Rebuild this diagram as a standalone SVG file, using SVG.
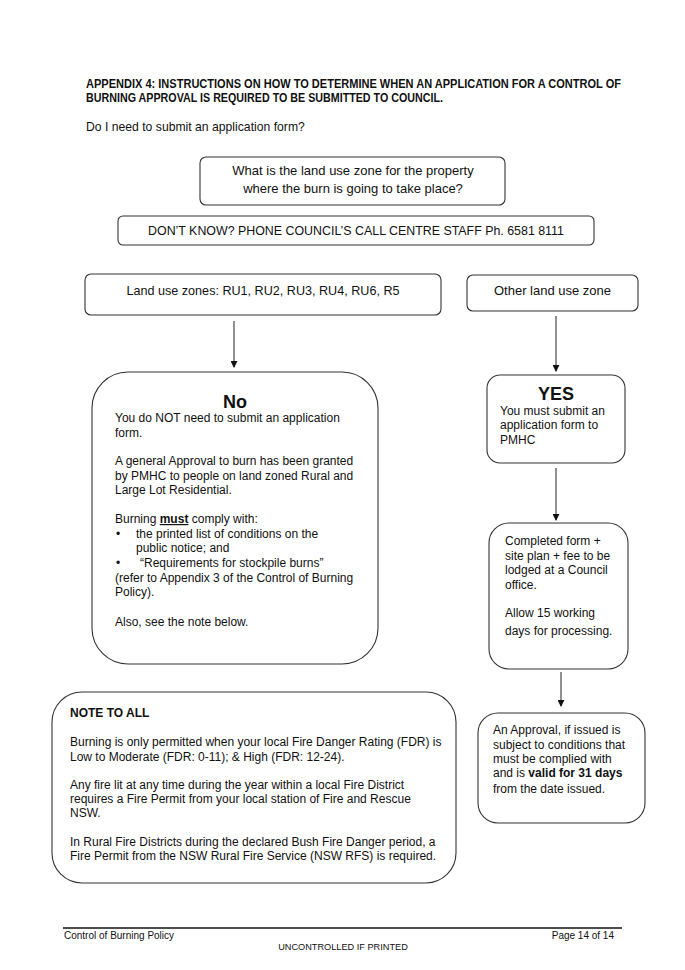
<svg xmlns="http://www.w3.org/2000/svg" width="685" height="970" viewBox="0 0 685 970">
<defs>
<style>
text{font-family:"Liberation Sans",Arial,sans-serif;fill:#111;font-size:12px}
.box{fill:#fff;stroke:#333;stroke-width:1.1}
.t13{font-size:13px}
.b{font-weight:bold}
.h{font-size:18px;font-weight:bold}
.ft{font-size:10px}
.c{text-anchor:middle}
.conn line{stroke:#222;stroke-width:1}
</style>
<marker id="ah" viewBox="0 0 8 8" refX="7" refY="4" markerWidth="7" markerHeight="7" markerUnits="userSpaceOnUse" orient="auto">
<path d="M0,0 L8,4 L0,8 Z" fill="#111"/>
</marker>
</defs>
<rect width="685" height="970" fill="#fff"/>

<g id="header">
<text x="86" y="88" class="b" textLength="535" lengthAdjust="spacingAndGlyphs">APPENDIX 4:  INSTRUCTIONS ON HOW TO DETERMINE WHEN AN APPLICATION FOR A CONTROL OF</text>
<text x="86" y="102" class="b" textLength="357" lengthAdjust="spacingAndGlyphs">BURNING APPROVAL IS REQUIRED TO BE SUBMITTED TO COUNCIL.</text>
<text x="86" y="131" style="font-size:12.2px">Do I need to submit an application form?</text>
</g>

<g id="question">
<rect class="box" x="200" y="157" width="305" height="48" rx="6"/>
<text x="353" y="175" class="t13 c">What is the land use zone for the property</text>
<text x="353" y="193" class="t13 c">where the burn is going to take place?</text>
</g>

<g id="dontknow">
<rect class="box" x="118" y="216" width="476" height="29" rx="5"/>
<text x="356" y="235" class="c" style="font-size:12.4px">DON’T KNOW? PHONE COUNCIL’S CALL CENTRE STAFF Ph. 6581 8111</text>
</g>

<g id="zones">
<rect class="box" x="85" y="274" width="356" height="41" rx="6"/>
<text x="263" y="295" class="c" style="font-size:12.6px">Land use zones: RU1, RU2, RU3, RU4, RU6, R5</text>
</g>

<g id="other">
<rect class="box" x="467" y="275" width="171" height="36" rx="6"/>
<text x="552.5" y="295" class="t13 c">Other land use zone</text>
</g>

<g class="conn" id="connectors">
<line x1="234" y1="321" x2="234" y2="367" marker-end="url(#ah)"/>
<line x1="556" y1="316" x2="556" y2="371" marker-end="url(#ah)"/>
<line x1="556" y1="468" x2="556" y2="520" marker-end="url(#ah)"/>
<line x1="561" y1="672" x2="561" y2="706" marker-end="url(#ah)"/>
</g>

<g id="no">
<rect class="box" x="92" y="372" width="286" height="292" rx="36"/>
<text x="235" y="408" class="h c">No</text>
<text x="115" y="422">You do NOT need to submit an application</text>
<text x="115" y="437">form.</text>
<text x="115" y="465">A general Approval to burn has been granted</text>
<text x="115" y="480">by PMHC to people on land zoned Rural and</text>
<text x="115" y="494">Large Lot Residential.</text>
<text x="115" y="523">Burning <tspan class="b" text-decoration="underline">must</tspan> comply with:</text>
<text x="116" y="538">•</text>
<text x="136" y="538">the printed list of conditions on the</text>
<text x="136" y="552">public notice; and</text>
<text x="116" y="567">•</text>
<text x="140" y="567">“Requirements for stockpile burns”</text>
<text x="115" y="582">(refer to Appendix 3 of the Control of Burning</text>
<text x="115" y="596">Policy).</text>
<text x="115" y="626">Also, see the note below.</text>
</g>

<g id="yes">
<rect class="box" x="487" y="375" width="138" height="88" rx="13"/>
<text x="556" y="400" class="h c">YES</text>
<text x="500" y="415">You must submit an</text>
<text x="500" y="429">application form to</text>
<text x="500" y="444">PMHC</text>
</g>

<g id="completed">
<rect class="box" x="489" y="523" width="139" height="146" rx="20"/>
<text x="505" y="545">Completed form +</text>
<text x="505" y="560">site plan + fee to be</text>
<text x="505" y="574">lodged at a Council</text>
<text x="505" y="589">office.</text>
<text x="505" y="617">Allow 15 working</text>
<text x="505" y="635">days for processing.</text>
</g>

<g id="approval">
<rect class="box" x="478" y="713" width="167" height="110" rx="20"/>
<text x="493" y="734">An Approval, if issued is</text>
<text x="493" y="749">subject to conditions that</text>
<text x="493" y="763">must be complied with</text>
<text x="493" y="777">and is <tspan class="b">valid for 31 days</tspan></text>
<text x="493" y="793">from the date issued.</text>
</g>

<g id="note">
<rect class="box" x="52" y="692" width="404" height="191" rx="30"/>
<text x="70" y="717" class="b">NOTE TO ALL</text>
<text x="70" y="746">Burning is only permitted when your local Fire Danger Rating (FDR) is</text>
<text x="70" y="761">Low to Moderate (FDR: 0-11); &amp; High (FDR: 12-24).</text>
<text x="70" y="789">Any fire lit at any time during the year within a local Fire District</text>
<text x="70" y="803">requires a Fire Permit from your local station of Fire and Rescue</text>
<text x="70" y="817">NSW.</text>
<text x="70" y="846">In Rural Fire Districts during the declared Bush Fire Danger period, a</text>
<text x="70" y="860">Fire Permit from the NSW Rural Fire Service (NSW RFS) is required.</text>
</g>

<g id="footer">
<line x1="63" y1="928" x2="622" y2="928" stroke="#111" stroke-width="1.5"/>
<text x="64" y="939" class="ft">Control of Burning Policy</text>
<text x="614" y="939" class="ft" text-anchor="end">Page 14 of 14</text>
<text x="343" y="950" class="ft c" style="font-size:9.2px">UNCONTROLLED IF PRINTED</text>
</g>
</svg>
